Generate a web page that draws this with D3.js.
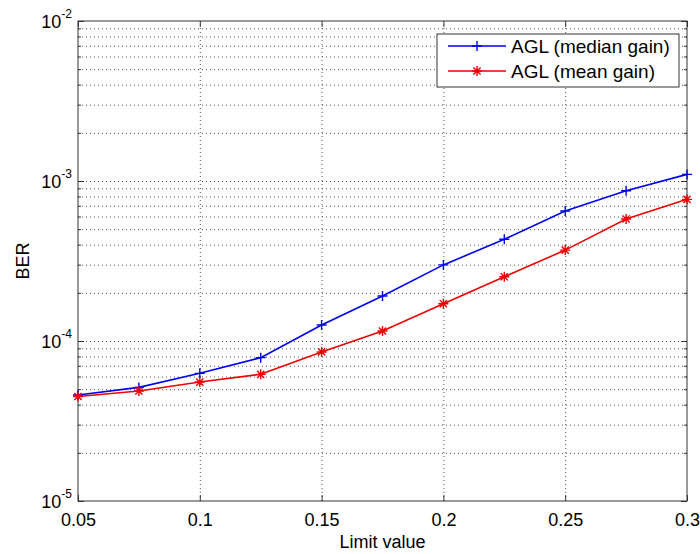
<!DOCTYPE html>
<html lang="en">
<head>
  <meta charset="UTF-8">
  <title>BER vs limit value</title>
  <script src="https://d3js.org/d3.v7.min.js"></script>
  <style>
    body { margin: 0; background: #fff; font-family: "Liberation Sans", Arial, sans-serif; }
    svg text { fill: #000; }
  </style>
</head>
<body>
  <svg id="chart" width="700" height="554"></svg>
  <script>
    // values
    const limits = [0.05, 0.075, 0.1, 0.125, 0.15, 0.175, 0.2, 0.225, 0.25, 0.275, 0.3];
    const berMedian = [4.6e-5, 5.13e-5, 6.28e-5, 7.87e-5, 1.26e-4, 1.91e-4, 2.99e-4, 4.32e-4, 6.49e-4, 8.7e-4, 1.1e-3];
    const berMean = [4.5e-5, 4.87e-5, 5.54e-5, 6.19e-5, 8.54e-5, 1.155e-4, 1.71e-4, 2.52e-4, 3.7e-4, 5.79e-4, 7.68e-4];
    const xTicks = [0.05, 0.1, 0.15, 0.2, 0.25, 0.3];
    const xTickLabels = ['0.05', '0.1', '0.15', '0.2', '0.25', '0.3'];
    const yDecades = [-5, -4, -3, -2];
    const seriesNames = ['AGL (median gain)', 'AGL (mean gain)'];

    const W = 700, H = 554;
    const margin = { top: 21, right: 13, bottom: 53, left: 78 };
    const innerW = W - margin.left - margin.right;
    const innerH = H - margin.top - margin.bottom;

    const svg = d3.select('#chart');
    const x = d3.scaleLinear().domain([0.05, 0.3]).range([margin.left, W - margin.right]);
    const y = d3.scaleLog().domain([1e-5, 1e-2]).range([H - margin.bottom, margin.top]);

    const yAll = y.ticks();
    const yMajor = yDecades.map(e => Math.pow(10, e));
    const isMajor = v => Math.abs(Math.log10(v) - Math.round(Math.log10(v))) < 1e-9;
    const yMinor = yAll.filter(v => !isMajor(v));

    const gridStyle = g => {
      g.select('.domain').remove();
      g.selectAll('line').attr('stroke', '#555').attr('stroke-width', 1).attr('stroke-dasharray', '1,3');
    };

    // dotted grid
    svg.append('g')
      .attr('transform', `translate(${margin.left},0)`)
      .call(d3.axisLeft(y).tickValues(yAll.filter(v => v > 1e-5 && v < 1e-2)).tickSize(-innerW).tickFormat(''))
      .call(gridStyle);
    svg.append('g')
      .attr('transform', `translate(0,${H - margin.bottom})`)
      .call(d3.axisBottom(x).tickValues(xTicks.slice(1, -1)).tickSize(-innerH).tickFormat(''))
      .call(gridStyle);

    const tickStyle = g => {
      g.select('.domain').remove();
      g.selectAll('line').attr('stroke', '#333');
    };

    // inward ticks on all four sides
    svg.append('g').attr('transform', `translate(${margin.left},0)`)
      .call(d3.axisLeft(y).tickValues(yMajor).tickSize(-6).tickFormat('')).call(tickStyle);
    svg.append('g').attr('transform', `translate(${margin.left},0)`)
      .call(d3.axisLeft(y).tickValues(yMinor).tickSize(-3).tickFormat('')).call(tickStyle);
    svg.append('g').attr('transform', `translate(${W - margin.right},0)`)
      .call(d3.axisRight(y).tickValues(yMajor).tickSize(-6).tickFormat('')).call(tickStyle);
    svg.append('g').attr('transform', `translate(${W - margin.right},0)`)
      .call(d3.axisRight(y).tickValues(yMinor).tickSize(-3).tickFormat('')).call(tickStyle);
    svg.append('g').attr('transform', `translate(0,${margin.top})`)
      .call(d3.axisTop(x).tickValues(xTicks).tickSize(-6).tickFormat('')).call(tickStyle);

    const xAxis = svg.append('g').attr('transform', `translate(0,${H - margin.bottom})`)
      .call(d3.axisBottom(x).tickValues(xTicks).tickSizeInner(-6).tickSizeOuter(0).tickPadding(12)
        .tickFormat((d, i) => xTickLabels[i]))
      .call(tickStyle);
    xAxis.selectAll('text').attr('font-size', 18).attr('font-family', '"Liberation Sans", Arial, sans-serif');

    // y tick labels 10^n
    const yLab = svg.append('g');
    yDecades.forEach(e => {
      const t = yLab.append('text')
        .attr('x', margin.left - 6)
        .attr('y', y(Math.pow(10, e)) + 7)
        .attr('text-anchor', 'end')
        .attr('font-size', 18);
      t.append('tspan').text('10');
      t.append('tspan').attr('dy', -10).attr('font-size', 12).text(String(e));
    });

    // box
    svg.append('rect')
      .attr('x', margin.left).attr('y', margin.top)
      .attr('width', innerW).attr('height', innerH)
      .attr('fill', 'none').attr('stroke', '#333').attr('stroke-width', 1);

    // series
    const line = d3.line().x((d, i) => x(limits[i])).y(d => y(d));
    const plusPath = 'M-5,0H5M0,-5V5';
    const starPath = 'M-5,0H5M0,-5V5M-3.6,-3.6L3.6,3.6M-3.6,3.6L3.6,-3.6';
    const series = [
      { values: berMedian, color: '#0000ee', marker: plusPath },
      { values: berMean, color: '#ee0000', marker: starPath }
    ];

    series.forEach(s => {
      svg.append('path')
        .datum(s.values)
        .attr('d', line)
        .attr('fill', 'none')
        .attr('stroke', s.color)
        .attr('stroke-width', 1.6);
      svg.append('g').selectAll('path')
        .data(s.values)
        .join('path')
        .attr('transform', (d, i) => `translate(${x(limits[i])},${y(d)})`)
        .attr('d', s.marker)
        .attr('stroke', s.color)
        .attr('stroke-width', 1.4)
        .attr('fill', 'none');
    });

    // axis labels
    svg.append('text')
      .attr('x', (margin.left + W - margin.right) / 2)
      .attr('y', 548)
      .attr('text-anchor', 'middle')
      .attr('font-size', 18)
      .text('Limit value');
    svg.append('text')
      .attr('transform', `translate(29,${(margin.top + H - margin.bottom) / 2}) rotate(-90)`)
      .attr('text-anchor', 'middle')
      .attr('font-size', 18)
      .text('BER');

    // legend
    const legend = svg.append('g').attr('transform', 'translate(437,34)');
    legend.append('rect')
      .attr('width', 242).attr('height', 53)
      .attr('fill', '#fff').attr('stroke', '#333').attr('stroke-width', 1);
    series.forEach((s, i) => {
      const ly = 12 + i * 25;
      legend.append('line')
        .attr('x1', 11).attr('x2', 69).attr('y1', ly).attr('y2', ly)
        .attr('stroke', s.color).attr('stroke-width', 1.6);
      legend.append('path')
        .attr('transform', `translate(40,${ly})`)
        .attr('d', s.marker)
        .attr('stroke', s.color).attr('stroke-width', 1.4).attr('fill', 'none');
      legend.append('text')
        .attr('x', 74).attr('y', ly + 7)
        .attr('font-size', 19)
        .text(seriesNames[i]);
    });
  </script>
</body>
</html>
